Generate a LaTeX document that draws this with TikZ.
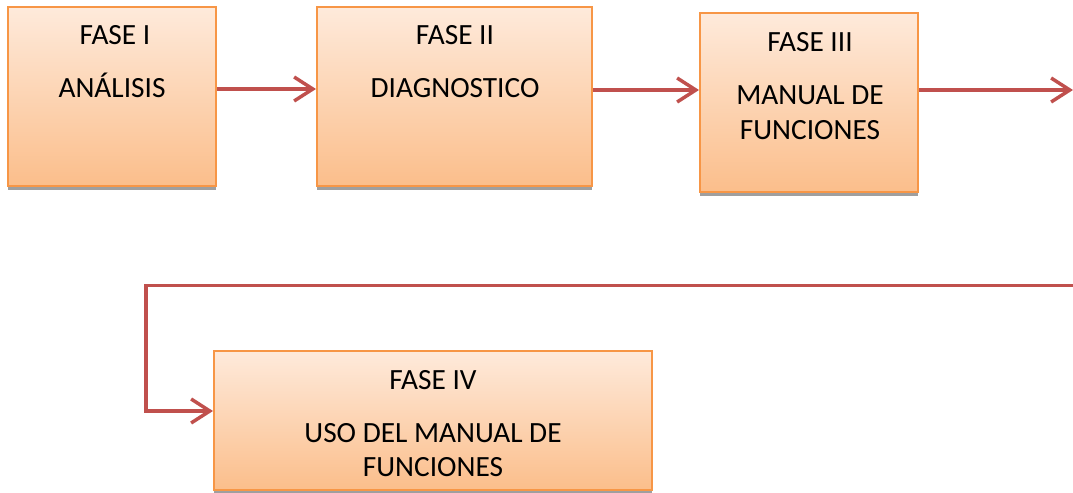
\documentclass[tikz,border=0pt]{standalone}
\usepackage{fontspec}
\setmainfont{Carlito}
\usetikzlibrary{arrows.meta,shadows}
\definecolor{edgec}{HTML}{F79646}
\definecolor{topc}{HTML}{FEEADB}
\definecolor{botc}{HTML}{FBBE8B}
\definecolor{arrc}{HTML}{C0504D}
\definecolor{shadc}{HTML}{9F9F9F}
\tikzset{
  phase/.style={draw=edgec, line width=1.5pt, top color=topc, bottom color=botc,
    inner sep=0pt, rectangle,
    drop shadow={shadow xshift=0pt, shadow yshift=-3pt, fill=shadc, opacity=1}},
  txt/.style={anchor=base, inner sep=0pt, font=\fontsize{22}{26}\selectfont},
  flow/.style={draw=arrc, line width=2.6pt,
    -{Straight Barb[length=14pt,width=18pt,line width=2.6pt]}},
  flowline/.style={draw=arrc, line width=2.6pt}
}
\begin{document}
\begin{tikzpicture}[x=0.75pt,y=-0.75pt]
\useasboundingbox[fill=white] (0,0) rectangle (1073,492);
% boxes
\node[phase, minimum width=156pt, minimum height=134.25pt] (b1) at (112,96.5) {};
\node[phase, minimum width=206.25pt, minimum height=134.25pt] (b2) at (454.5,96.5) {};
\node[phase, minimum width=163.5pt, minimum height=134.25pt] (b3) at (809,102.5) {};
\node[phase, minimum width=328.5pt, minimum height=104.25pt] (b4) at (433,420.5) {};
% texts
\node[txt] (t1a) at (115,45) {FASE I};
\node[txt] (t1b) at (112,98) {ANÁLISIS};
\node[txt] (t2a) at (455,45) {FASE II};
\node[txt] (t2b) at (455,98) {DIAGNOSTICO};
\node[txt] (t3a) at (810,52) {FASE III};
\node[txt] (t3b) at (810,104) {MANUAL DE};
\node[txt] (t3c) at (810,139) {FUNCIONES};
\node[txt] (t4a) at (433,389) {FASE IV};
\node[txt] (t4b) at (433,442) {USO DEL MANUAL DE};
\node[txt] (t4c) at (433,476) {FUNCIONES};
% connectors
\coordinate (r1) at (1073,90);
\coordinate (r2) at (1073,285.5);
\coordinate (l1) at (146,285.5);
\coordinate (l2) at (146,411);
\draw[flow] (b1.east |- 0,89) -- (b2.west |- 0,89);
\draw[flow] (b2.east |- 0,90) -- (b3.west |- 0,90);
\draw[flow] (b3.east |- r1) -- (r1);
\draw[flowline] (r2) -- (l1) -- (l2);
\draw[flow] ([xshift=-1.2pt]l2) -- (b4.west |- l2);
\end{tikzpicture}
\end{document}
